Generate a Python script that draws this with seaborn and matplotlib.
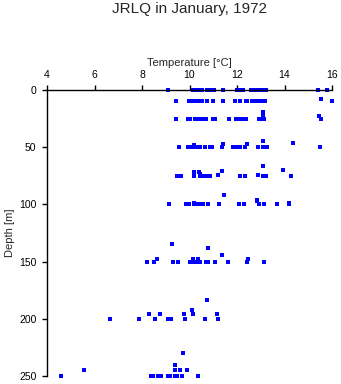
import matplotlib
matplotlib.use("Agg")
import matplotlib.pyplot as plt
import seaborn as sns
import pandas as pd

# Temperatures [°C] at each standard depth [m]
temps_0 = [9.11, 10.16, 10.23, 10.30, 10.37, 10.44, 10.51, 10.75, 10.86, 11.03, 11.42,
           11.99, 12.05, 12.10, 12.17, 12.24, 12.58, 12.65, 12.72, 12.83, 12.94, 13.08,
           13.22, 15.40, 15.80]
temps_10 = [9.43, 9.99, 10.05, 10.09, 10.14, 10.19, 10.30, 10.37, 10.51, 10.72, 11.00,
            11.42, 11.93, 12.13, 12.37, 12.43, 12.62, 12.80, 12.87, 12.94, 13.04, 13.11,
            13.17, 16.01]
temps_25 = [9.43, 9.95, 10.02, 10.23, 10.30, 10.37, 10.51, 10.62, 10.69, 11.00, 11.07,
            11.68, 11.96, 12.03, 12.13, 12.27, 12.36, 12.94, 13.04, 13.15, 15.53]
temps_50 = [9.57, 9.95, 10.02, 10.09, 10.16, 10.23, 10.30, 10.44, 10.65, 10.86, 10.96,
            11.38, 11.84, 11.96, 12.13, 12.34, 12.90, 13.08, 13.25, 15.51]
temps_75 = [9.46, 9.63, 10.20, 10.44, 10.58, 10.72, 10.86, 12.13, 12.34, 13.08, 13.20,
            14.29]
temps_100 = [9.15, 9.85, 9.99, 10.20, 10.30, 10.44, 10.58, 10.79, 11.24, 12.10, 12.31,
             12.93, 13.15, 13.70, 14.20]
temps_150 = [8.20, 8.50, 9.29, 9.52, 10.00, 10.13, 10.30, 10.44, 10.69, 10.79, 11.09,
             11.60, 12.43, 13.15]
temps_200 = [6.67, 7.89, 8.56, 9.10, 9.15, 9.22, 9.82, 10.67, 11.20]
temps_250 = [4.59, 8.37, 8.45, 8.68, 8.79, 9.10, 9.20, 9.39, 9.48, 9.69, 10.35]

standard_depths = [0, 10, 25, 50, 75, 100, 150, 200, 250]
standard_temps = [temps_0, temps_10, temps_25, temps_50, temps_75, temps_100,
                  temps_150, temps_200, temps_250]

# Observations at non-standard depths
extra_temps = [15.55, 13.10, 13.08, 15.46, 10.20, 11.42, 12.40, 13.10, 14.37,
               10.20, 10.40, 10.44, 11.20, 11.35, 12.90, 13.10, 13.95,
               10.20, 12.85, 11.47, 12.86, 14.20,
               8.63, 10.16, 10.37, 12.47, 9.27, 10.79, 11.38,
               8.29, 8.74, 9.78, 10.10, 10.14, 11.15, 10.75,
               5.57, 9.72, 9.39, 9.41, 9.58, 9.89]
extra_depths = [8, 22, 19, 23, 48, 47, 47, 45, 46,
                72, 72, 73, 74, 71, 74, 66, 70,
                99, 97, 92, 96, 99,
                148, 148, 148, 148, 135, 138, 144,
                196, 196, 196, 192.5, 196, 196, 184,
                245, 230, 240, 245, 245, 245]

x_ticks = [4, 6, 8, 10, 12, 14, 16]
y_ticks = [0, 50, 100, 150, 200, 250]

temperature = []
depth = []
for d, ts in zip(standard_depths, standard_temps):
    temperature += ts
    depth += [d] * len(ts)
temperature += extra_temps
depth += extra_depths
df = pd.DataFrame({"Temperature": temperature, "Depth": depth})

sns.set_style("white")
plt.rcParams["font.family"] = ["Liberation Sans", "DejaVu Sans"]

fig = plt.figure(figsize=(3.41, 3.84), dpi=100)
ax = fig.add_axes([47 / 341, 1 - 376 / 384, 285 / 341, 286 / 384])

sns.scatterplot(data=df, x="Temperature", y="Depth", ax=ax, marker="s", s=5,
                color="#0000ff", linewidth=0, clip_on=False)

ax.set_xlim(4, 16)
ax.set_ylim(250, 0)
ax.set_xticks(x_ticks)
ax.set_yticks(y_ticks)
ax.xaxis.tick_top()
ax.xaxis.set_label_position("top")
for s in ["right", "bottom"]:
    ax.spines[s].set_visible(False)
for s in ["left", "top"]:
    ax.spines[s].set_color("black")
    ax.spines[s].set_linewidth(1.0)
ax.tick_params(axis="x", direction="out", length=3.6, width=1, pad=3.5,
               labelsize=7.5, colors="black", top=True, bottom=False)
ax.tick_params(axis="y", direction="out", length=3.6, width=1, pad=4,
               labelsize=7.5, colors="black", left=True)
ax.set_xlabel("Temperature [°C]", fontsize=8, labelpad=3)
ax.set_ylabel("Depth [m]", fontsize=8, labelpad=3)

fig.text(190 / 341, 1 - 13.3 / 384, "JRLQ in January, 1972", ha="center",
         va="baseline", fontsize=11)

fig.savefig("out.png", dpi=100)
